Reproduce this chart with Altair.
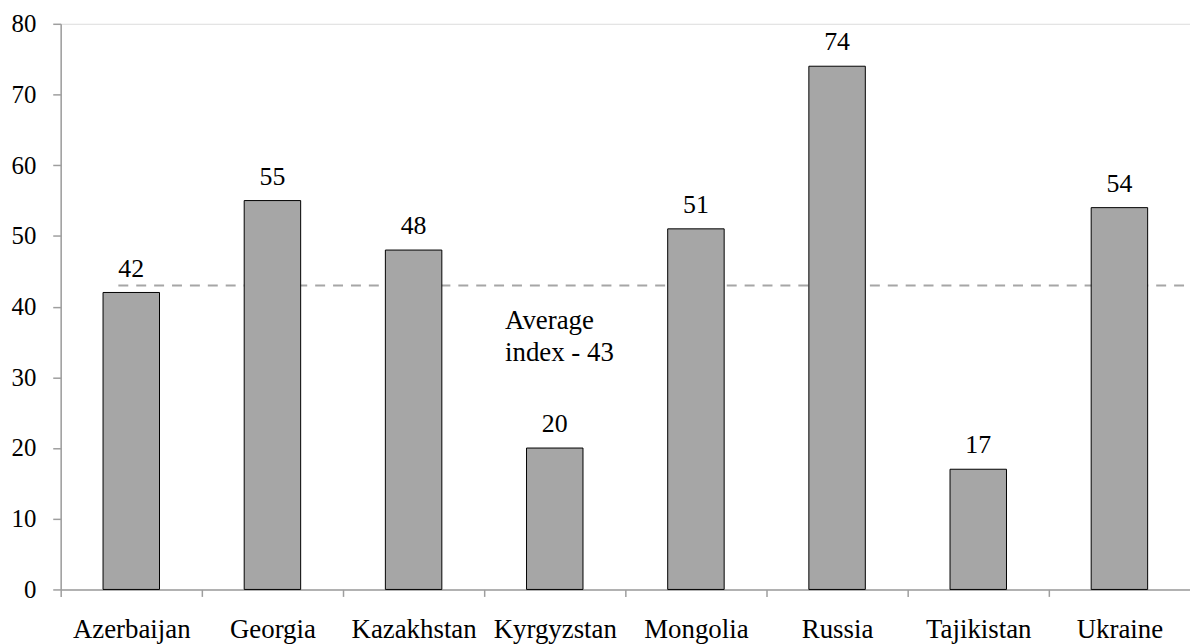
import altair as alt
import pandas as pd

countries = ["Azerbaijan", "Georgia", "Kazakhstan", "Kyrgyzstan", "Mongolia", "Russia", "Tajikistan", "Ukraine"]
values = [42, 55, 48, 20, 51, 74, 17, 54]
average_value = 43
average_label = ["Average", "index - 43"]
annotation_y = 36.8
y_ticks = [0, 10, 20, 30, 40, 50, 60, 70, 80]

df = pd.DataFrame({"country": countries, "value": values})
avg_df = pd.DataFrame({"avg": [average_value]})
ann_df = pd.DataFrame({"y": [annotation_y], "label": [average_label]})

FONT = "Liberation Serif"
W, H = 1136, 569
STEP = W / len(countries)

x_axis = alt.Axis(title=None, labelAngle=0, ticks=True, tickOffset=-STEP / 2,
                  labelOffset=STEP / 2,
                  labelFont=FONT, labelFontSize=27, labelColor="black",
                  labelBaseline="alphabetic", labelPadding=41,
                  tickSize=7, tickColor="#9E9E9E", tickWidth=1.5,
                  domainColor="#9E9E9E", domainWidth=1.5, grid=False)
x_scale = alt.Scale(paddingInner=0.6, paddingOuter=0.3)
y_scale = alt.Scale(domain=[0, 80], nice=False)
y_axis = alt.Axis(title=None, values=y_ticks, labelFont=FONT, labelFontSize=25,
                  labelColor="black", labelPadding=17, tickSize=8,
                  tickColor="#9E9E9E", tickWidth=1.5,
                  domainColor="#9E9E9E", domainWidth=1.5, grid=False)

avg_line = alt.Chart(avg_df).mark_rule(color="#A6A6A6", strokeWidth=2, strokeDash=[10, 8]).encode(
    y=alt.Y("avg:Q", scale=y_scale, axis=y_axis),
    x=alt.value(58),
    x2=alt.value(W),
)

bars = alt.Chart(df).mark_bar(color="#A6A6A6", stroke="black", strokeWidth=1).encode(
    x=alt.X("country:N", sort=countries, scale=x_scale, axis=x_axis),
    y=alt.Y("value:Q", scale=y_scale, axis=y_axis),
)

labels = alt.Chart(df).mark_text(font=FONT, fontSize=26, color="black",
                                 baseline="alphabetic", dy=-16).encode(
    x=alt.X("country:N", sort=countries, scale=x_scale, axis=x_axis),
    y=alt.Y("value:Q", scale=y_scale, axis=y_axis),
    text="value:Q",
)

annotation = alt.Chart(ann_df).mark_text(font=FONT, fontSize=27, color="black", align="left",
                                         baseline="alphabetic", lineHeight=32).encode(
    x=alt.value(447),
    y=alt.Y("y:Q", scale=y_scale, axis=y_axis),
    text="label",
)

chart = alt.layer(avg_line, bars, labels, annotation).properties(
    width=W, height=H,
    autosize=alt.AutoSizeParams(type="none"),
    padding={"left": 53, "top": 14, "right": 0, "bottom": 56},
).configure_view(stroke=None).configure(background="white")

chart.save("out.html", embed_options={"renderer": "svg", "actions": False})
